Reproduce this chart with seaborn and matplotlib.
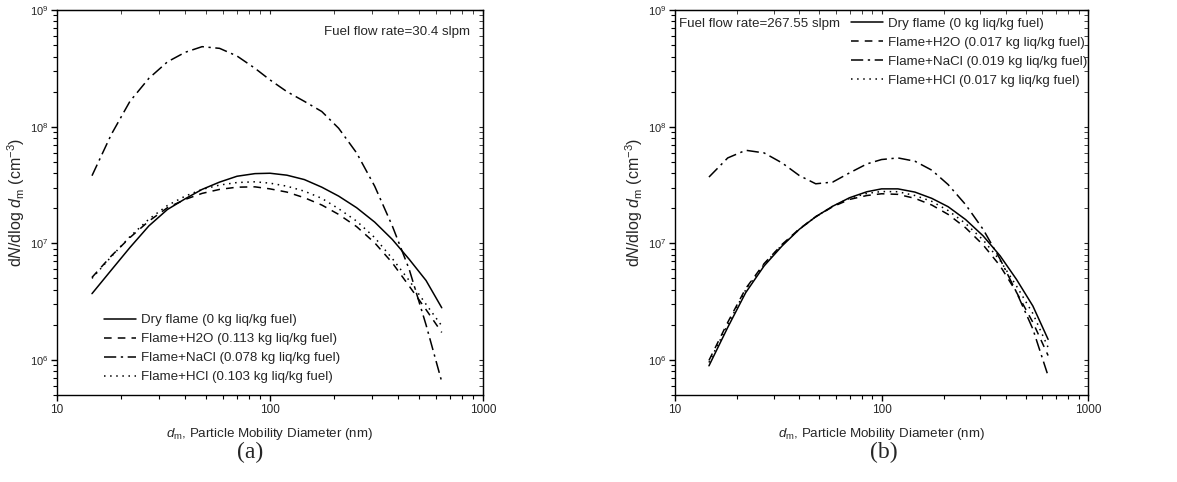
import matplotlib
matplotlib.use('Agg')
import matplotlib.pyplot as plt
import matplotlib.ticker as mticker
import seaborn as sns
import pandas as pd

# particle mobility diameter (nm), shared by all curves
diameter = [14.6, 18, 22, 27, 33, 40, 48, 58, 70, 85, 100, 120, 145, 175,
            210, 255, 310, 375, 450, 540, 640]

# panel (a): fuel flow rate 30.4 slpm
a_dry = [3.7e6, 5.9e6, 9.2e6, 1.41e7, 1.95e7, 2.41e7, 2.9e7, 3.35e7, 3.76e7, 3.96e7,
         3.99e7, 3.84e7, 3.52e7, 3.03e7, 2.54e7, 2.02e7, 1.52e7, 1.08e7, 7.3e6, 4.8e6, 2.8e6]
a_h2o = [5.1e6, 7.8e6, 1.12e7, 1.55e7, 2.02e7, 2.38e7, 2.68e7, 2.9e7, 3.03e7, 3.05e7,
         2.93e7, 2.75e7, 2.46e7, 2.13e7, 1.77e7, 1.39e7, 1.01e7, 6.8e6, 4.3e6, 2.7e6, 1.72e6]
a_nacl = [3.8e7, 8.6e7, 1.65e8, 2.6e8, 3.6e8, 4.35e8, 4.86e8, 4.7e8, 4.04e8, 3.17e8,
          2.52e8, 2.0e8, 1.65e8, 1.35e8, 9.7e7, 5.96e7, 3.09e7, 1.41e7, 6.0e6, 2.0e6, 6.5e5]
a_hcl = [5.0e6, 7.7e6, 1.14e7, 1.61e7, 2.11e7, 2.54e7, 2.9e7, 3.16e7, 3.32e7, 3.37e7,
         3.28e7, 3.09e7, 2.8e7, 2.43e7, 1.98e7, 1.55e7, 1.12e7, 7.4e6, 4.8e6, 3.0e6, 1.96e6]

# panel (b): fuel flow rate 267.55 slpm
b_dry = [8.9e5, 1.9e6, 3.78e6, 6.4e6, 9.5e6, 1.32e7, 1.69e7, 2.08e7, 2.46e7, 2.77e7,
         2.93e7, 2.93e7, 2.75e7, 2.43e7, 2.06e7, 1.6e7, 1.16e7, 7.8e6, 4.9e6, 2.9e6, 1.5e6]
b_h2o = [9.9e5, 2.1e6, 4.1e6, 6.7e6, 9.8e6, 1.33e7, 1.69e7, 2.06e7, 2.38e7, 2.57e7,
         2.66e7, 2.63e7, 2.43e7, 2.13e7, 1.77e7, 1.36e7, 9.7e6, 6.4e6, 3.8e6, 2.1e6, 1.09e6]
b_nacl = [3.7e7, 5.4e7, 6.28e7, 5.96e7, 4.89e7, 3.81e7, 3.24e7, 3.35e7, 4.02e7, 4.8e7,
          5.23e7, 5.4e7, 5.06e7, 4.24e7, 3.19e7, 2.15e7, 1.32e7, 7.3e6, 3.8e6, 1.84e6, 7.3e5]
b_hcl = [9.5e5, 2.0e6, 4.0e6, 6.6e6, 9.7e6, 1.32e7, 1.69e7, 2.08e7, 2.43e7, 2.68e7,
         2.78e7, 2.77e7, 2.57e7, 2.29e7, 1.91e7, 1.48e7, 1.07e7, 7.1e6, 4.3e6, 2.5e6, 1.28e6]

a_labels = ['Dry flame (0 kg liq/kg fuel)', 'Flame+H2O (0.113 kg liq/kg fuel)',
            'Flame+NaCl (0.078 kg liq/kg fuel)', 'Flame+HCl (0.103 kg liq/kg fuel)']
b_labels = ['Dry flame (0 kg liq/kg fuel)', 'Flame+H2O (0.017 kg liq/kg fuel)',
            'Flame+NaCl (0.019 kg liq/kg fuel)', 'Flame+HCl (0.017 kg liq/kg fuel)']

line_styles = ['-', (0, (5, 4)), (0, (8, 3, 1.5, 3)), (0, (1, 3))]

sns.set_style('ticks')
plt.rcParams['font.family'] = ['Liberation Sans', 'DejaVu Sans']
plt.rcParams['mathtext.fontset'] = 'custom'
plt.rcParams['mathtext.rm'] = 'Liberation Sans'
plt.rcParams['mathtext.it'] = 'Liberation Sans:italic'

FS = 9.6


def draw_panel(ax, series, labels, note, note_xy, note_ha, legend_loc, legend_anchor):
    for vals, lab, ls in zip(series, labels, line_styles):
        df = pd.DataFrame({'d': diameter, 'n': vals})
        sns.lineplot(data=df, x='d', y='n', ax=ax, color='black', linewidth=1.1,
                     linestyle=ls, label=lab)
    ax.set_xscale('log')
    ax.set_yscale('log')
    ax.set_xlim(10, 1000)
    ax.set_ylim(5e5, 1e9)
    ax.xaxis.set_major_formatter(mticker.FuncFormatter(lambda v, p: f'{v:g}'))
    ax.xaxis.set_minor_formatter(mticker.NullFormatter())
    ax.yaxis.set_minor_formatter(mticker.NullFormatter())
    ax.tick_params(axis='both', which='major', labelsize=8.5, length=4, width=1,
                   color='black', pad=2.5, direction='out')
    ax.tick_params(axis='both', which='minor', length=3, width=0.8, color='black',
                   direction='out')
    ax.tick_params(axis='y', labelsize=8, pad=2)
    for spine in ax.spines.values():
        spine.set_color('black')
        spine.set_linewidth(1.0)
    ax.set_xlabel(r'$d_\mathrm{m}$, Particle Mobility Diameter (nm)', fontsize=FS,
                  labelpad=7)
    ax.set_ylabel(r'd$N$/dlog $d_\mathrm{m}$ (cm$^{-3}$)', fontsize=11.5, labelpad=2)
    ax.text(note_xy[0], note_xy[1], note, transform=ax.transAxes, ha=note_ha,
            va='center', fontsize=FS)
    ax.legend(loc=legend_loc, bbox_to_anchor=legend_anchor, frameon=False,
              fontsize=FS, handlelength=2.4, handletextpad=0.35,
              labelspacing=0.5, borderaxespad=0, borderpad=0)
    # mirrored inward ticks on top and right spines
    ax.secondary_xaxis('top').tick_params(which='both', direction='in', labeltop=False,
                                          length=3)
    ax.secondary_yaxis('right').tick_params(which='both', direction='in',
                                            labelright=False, length=3)


fig = plt.figure(figsize=(11.77, 4.82), dpi=100)
ax1 = fig.add_axes([0.0484, 0.1805, 0.362, 0.7985])
ax2 = fig.add_axes([0.5735, 0.1805, 0.351, 0.7985])

draw_panel(ax1, [a_dry, a_h2o, a_nacl, a_hcl], a_labels, 'Fuel flow rate=30.4 slpm',
           (0.97, 0.943), 'right', 'lower left', (0.11, 0.03))
draw_panel(ax2, [b_dry, b_h2o, b_nacl, b_hcl], b_labels, 'Fuel flow rate=267.55 slpm',
           (0.01, 0.965), 'left', 'upper left', (0.426, 0.98))

fig.text(0.2125, 0.062, '(a)', ha='center', va='center', fontsize=17,
         family=['Liberation Serif'])
fig.text(0.7505, 0.062, '(b)', ha='center', va='center', fontsize=17,
         family=['Liberation Serif'])

fig.savefig('out.png', dpi=100)
